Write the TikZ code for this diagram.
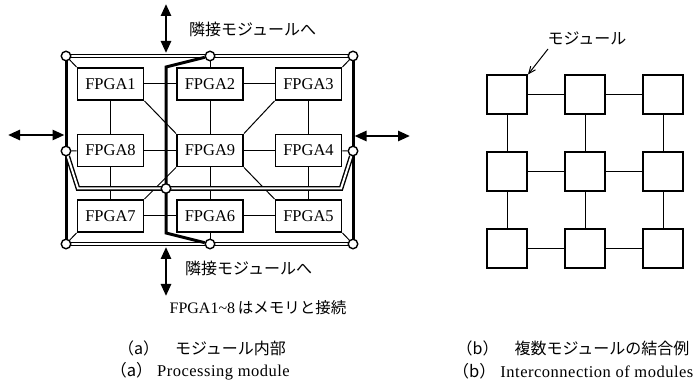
\documentclass[tikz,border=0pt]{standalone}
\usepackage{fontspec}
\setmainfont{Liberation Serif}
\newfontfamily\jp{Noto Sans CJK JP}
\newfontfamily\capfont{Liberation Serif}[LetterSpace=3]
\usetikzlibrary{arrows.meta}
\pgfdeclarelayer{bg}
\pgfsetlayers{bg,main}
\begin{document}
\begin{tikzpicture}[x=1pt,y=-1pt,
  fpga/.style={draw,line width=1.9pt,fill=white,minimum width=66pt,minimum height=32pt,inner sep=0pt,font=\fontsize{16.5}{16.5}\selectfont},
  jn/.style={circle,draw,line width=1.4pt,fill=white,minimum size=9.5pt,inner sep=0pt},
  wire/.style={line width=1pt},
  frame/.style={line width=3pt},
  dbl/.style={line width=1.4pt,double,double distance=2pt,line join=miter},
  bus/.style={line width=3pt,line join=miter},
  io/.style={line width=2.6pt,{Triangle[length=12pt,width=10pt]}-{Triangle[length=12pt,width=10pt]}},
  jlabel/.style={font=\jp\fontsize{16}{16}\selectfont,inner sep=0pt},
  caption/.style={font=\capfont\fontsize{16.5}{16.5}\selectfont,inner sep=0pt},
  mod/.style={draw,line width=2pt,minimum width=40pt,minimum height=39pt,inner sep=0pt},
  ]
\useasboundingbox (0,0) rectangle (699,387);

% ---------- (a) processing module ----------
\node[fpga] (f1) at (110.5,84) {FPGA1};
\node[fpga] (f2) at (210,84) {FPGA2};
\node[fpga] (f3) at (308.5,84) {FPGA3};
\node[fpga] (f8) at (110.5,150.5) {FPGA8};
\node[fpga] (f9) at (210,150.5) {FPGA9};
\node[fpga] (f4) at (308.5,150.5) {FPGA4};
\node[fpga] (f7) at (110.5,216) {FPGA7};
\node[fpga] (f6) at (210,216) {FPGA6};
\node[fpga] (f5) at (308.5,216) {FPGA5};

% junction points on the module frame
\node[jn] (tl) at (66,56) {};
\node[jn] (tm) at (210,56) {};
\node[jn] (tr) at (353,56) {};
\node[jn] (ml) at (66,151) {};
\node[jn] (mr) at (353,151) {};
\node[jn] (cb) at (166,188.5) {};
\node[jn] (bl) at (66,244) {};
\node[jn] (bm) at (210,244) {};
\node[jn] (br) at (353,244) {};

% bends and arrow ends
\coordinate (mlb) at (78,188.5);
\coordinate (mrb) at (341,188.5);
\coordinate (busT) at (166,67);
\coordinate (busB) at (166,233);
\coordinate (tend) at (166,4);
\coordinate (thit) at (166,53);
\coordinate (bhit) at (166,247);
\coordinate (bend) at (166,296);
\coordinate (lend) at (8,135);
\coordinate (lhit) at (64.5,135);
\coordinate (rhit) at (354.5,136);
\coordinate (rend) at (410,136);

\begin{pgfonlayer}{bg}
  % FPGA mesh
  \draw[wire] (f1) -- (f2);
  \draw[wire] (f2) -- (f3);
  \draw[wire] (f8) -- (f9);
  \draw[wire] (f9) -- (f4);
  \draw[wire] (f7) -- (f6);
  \draw[wire] (f6) -- (f5);
  \draw[wire] (f1) -- (f8);
  \draw[wire] (f8) -- (f7);
  \draw[wire] (f2) -- (f9);
  \draw[wire] (f9) -- (f6);
  \draw[wire] (f3) -- (f4);
  \draw[wire] (f4) -- (f5);
  \draw[wire] (f1.south east) -- (f9.north west);
  \draw[wire] (f3.south west) -- (f9.north east);
  \draw[wire] (f7.north east) -- (f9.south west);
  \draw[wire] (f5.north west) -- (f9.south east);
  % links from the frame to the FPGAs
  \draw[wire] (tl) -- (f1.north west);
  \draw[wire] (tr) -- (f3.north east);
  \draw[wire] (bl) -- (f7.south west);
  \draw[wire] (br) -- (f5.south east);
  \draw[wire] (ml) -- (f8);
  \draw[wire] (mr) -- (f4);
  \draw[wire] (tm) -- (f2);
  \draw[wire] (bm) -- (f6);
  % frame
  \draw[frame] (tl) -- (ml);
  \draw[frame] (ml) -- (bl);
  \draw[frame] (tr) -- (mr);
  \draw[frame] (mr) -- (br);
  \draw[dbl] (tl) -- (tm);
  \draw[dbl] (tm) -- (tr);
  \draw[dbl] (bl) -- (bm);
  \draw[dbl] (bm) -- (br);
  \draw[dbl] (ml) -- (mlb) -- (mrb) -- (mr);
  \draw[bus] (tm) -- (busT) -- (busB) -- (bm);
\end{pgfonlayer}

% links to neighbouring modules
\draw[io] (tend) -- (thit);
\draw[io] (bhit) -- (bend);
\draw[io] (lend) -- (lhit);
\draw[io] (rhit) -- (rend);

\node[jlabel,anchor=west] (nbTop) at (189,29) {隣接モジュールへ};
\node[jlabel,anchor=west] (nbBot) at (185,268) {隣接モジュールへ};
\node[inner sep=0pt,font=\fontsize{16}{16}\selectfont] (memo) at (258,308) {FPGA1\textasciitilde 8\,{\jp\fontsize{15.5}{15.5}\selectfont はメモリと接続}};

% ---------- (b) module array ----------
\foreach \r/\y in {1/95,2/172,3/249}
  \foreach \c/\x in {1/507,2/585,3/663}
    \node[mod] (m\r\c) at (\x,\y) {};
\foreach \r in {1,2,3}{
  \draw[wire] (m\r1) -- (m\r2);
  \draw[wire] (m\r2) -- (m\r3);
  \draw[wire] (m1\r) -- (m2\r);
  \draw[wire] (m2\r) -- (m3\r);
}
\node[jlabel] (modlbl) at (587,38) {モジュール};
\coordinate (lblfoot) at (548,49);
\draw[wire,-{Straight Barb[length=7pt,width=6pt]}] (lblfoot) -- (m11.north east);

% ---------- captions ----------
\node[jlabel] (capAj) at (202,348) {（a）\quad モジュール内部};
\node[caption] (capAe) at (200,371) {{\jp （a）}\ Processing module};
\node[jlabel] (capBj) at (573,348) {（b）\quad 複数モジュールの結合例};
\node[caption] (capBe) at (573,371) {{\jp （b）}\ Interconnection of modules};
\end{tikzpicture}
\end{document}
